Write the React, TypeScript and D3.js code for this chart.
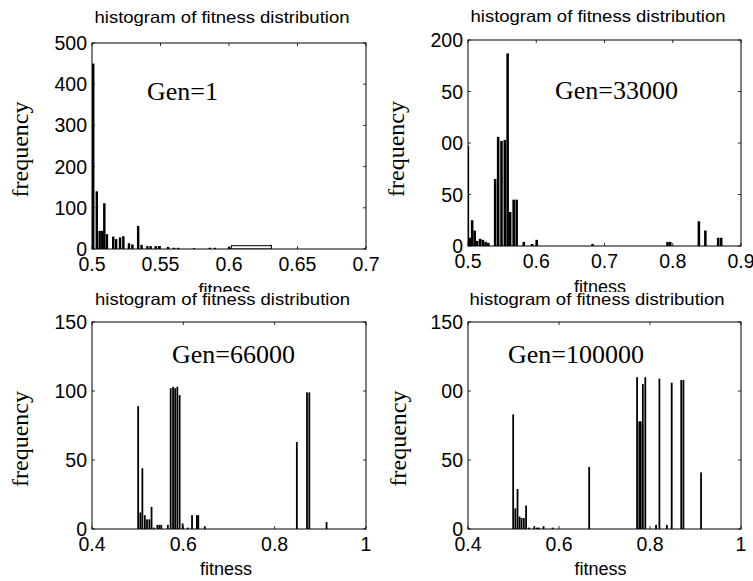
import React from 'react';
import * as d3 from 'd3';

// fitness bin centres and counts
const gen1Fitness = [0.501, 0.5036, 0.5057, 0.5076, 0.5091, 0.511, 0.5156, 0.5177, 0.5206, 0.523, 0.5271, 0.5296, 0.5338, 0.5363, 0.5405, 0.5429, 0.5466, 0.549, 0.5556, 0.56, 0.5631, 0.5746, 0.5861, 0.5899, 0.6002, 0.6305];
const gen1Counts = [450, 140, 44, 44, 111, 36, 30, 24, 28, 31, 14, 11, 56, 10, 7, 7, 7, 7, 5, 3, 3, 2, 3, 3, 5, 10];
// long low hollow bin near 0.6 - 0.63
const gen1FlatRange = [0.6017, 0.631];
const gen1FlatCount = 8;

const gen33kFitness = [0.5, 0.503, 0.5063, 0.51, 0.5137, 0.518, 0.522, 0.526, 0.53, 0.54, 0.5444, 0.5493, 0.5542, 0.5583, 0.562, 0.5671, 0.5715, 0.582, 0.5942, 0.6009, 0.6827, 0.7925, 0.7965, 0.8385, 0.848, 0.8668, 0.8712];
const gen33kCounts = [97, 8, 25, 15, 5, 7, 6, 4, 3, 65, 106, 102, 103, 187, 33, 45, 45, 4, 2, 6, 2, 4, 4, 24, 15, 8, 8];

const gen66kFitness = [0.5014, 0.5062, 0.5106, 0.516, 0.5208, 0.526, 0.5307, 0.5357, 0.5434, 0.5478, 0.552, 0.5664, 0.5726, 0.5778, 0.5824, 0.5872, 0.5922, 0.5988, 0.6102, 0.6194, 0.63, 0.633, 0.6474, 0.8489, 0.8711, 0.8762, 0.9139];
const gen66kCounts = [89, 12, 44, 10, 7, 7, 16, 1, 3, 3, 3, 3, 102, 103, 102, 103, 97, 4, 1, 10, 10, 10, 2, 63, 99, 99, 5];

const gen100kFitness = [0.4996, 0.5044, 0.5092, 0.5136, 0.518, 0.523, 0.528, 0.5345, 0.546, 0.5516, 0.556, 0.5664, 0.5864, 0.6667, 0.7719, 0.7768, 0.78, 0.7846, 0.79, 0.8136, 0.821, 0.8374, 0.848, 0.869, 0.8738, 0.9125];
const gen100kCounts = [83, 15, 29, 9, 8, 8, 17, 1, 2, 1, 1, 2, 1, 45, 110, 78, 78, 105, 110, 3, 109, 3, 106, 108, 108, 41];

// ticks
const gen1XTicks = [0.5, 0.55, 0.6, 0.65, 0.7];
const gen1XTickLabels = ['0.5', '0.55', '0.6', '0.65', '0.7'];
const gen1YTicks = [0, 100, 200, 300, 400, 500];
const gen1YTickLabels = ['0', '100', '200', '300', '400', '500'];

const gen33kXTicks = [0.5, 0.6, 0.7, 0.8, 0.9];
const gen33kXTickLabels = ['0.5', '0.6', '0.7', '0.8', '0.9'];
const gen33kYTicks = [0, 50, 100, 150, 200];
const gen33kYTickLabels = ['0', '50', '00', '50', '200'];

const wideXTicks = [0.4, 0.6, 0.8, 1];
const wideXTickLabels = ['0.4', '0.6', '0.8', '1'];
const gen66kYTicks = [0, 50, 100, 150];
const gen66kYTickLabels = ['0', '50', '100', '150'];
const gen100kYTicks = [0, 50, 100, 150];
const gen100kYTickLabels = ['0', '50', '00', '150'];

const TITLE = 'histogram of fitness distribution';
const SANS = "'Liberation Sans', Arial, sans-serif";
const SERIF = "'Liberation Serif', 'Times New Roman', serif";

const panels = [
  {
    id: 'p1', gen: 'Gen=1', fitness: gen1Fitness, counts: gen1Counts, bin: 0.002,
    xDomain: [0.5, 0.7], xTicks: gen1XTicks, xTickLabels: gen1XTickLabels,
    yDomain: [0, 500], yTicks: gen1YTicks, yTickLabels: gen1YTickLabels,
    frame: { left: 92, right: 366, top: 43, bottom: 249 },
    titleX: 222, titleY: 23, xLabelX: 224.5, xLabelY: 296, yLabelX: 28, yLabelY: 149.5, genX: 147, genY: 100,
    flat: true,
  },
  {
    id: 'p2', gen: 'Gen=33000', fitness: gen33kFitness, counts: gen33kCounts, bin: 0.0042,
    xDomain: [0.5, 0.9], xTicks: gen33kXTicks, xTickLabels: gen33kXTickLabels,
    yDomain: [0, 200], yTicks: gen33kYTicks, yTickLabels: gen33kYTickLabels,
    frame: { left: 468, right: 741, top: 40, bottom: 246 },
    titleX: 598, titleY: 22, xLabelX: 600, xLabelY: 293, yLabelX: 404, yLabelY: 149, genX: 555, genY: 99,
    flat: false,
  },
  {
    id: 'p3', gen: 'Gen=66000', fitness: gen66kFitness, counts: gen66kCounts, bin: 0.0046,
    xDomain: [0.4, 1], xTicks: wideXTicks, xTickLabels: wideXTickLabels,
    yDomain: [0, 150], yTicks: gen66kYTicks, yTickLabels: gen66kYTickLabels,
    frame: { left: 92, right: 366, top: 322, bottom: 529 },
    titleX: 222.5, titleY: 305, xLabelX: 226, xLabelY: 575, yLabelX: 28, yLabelY: 439, genX: 172, genY: 363,
    flat: false,
  },
  {
    id: 'p4', gen: 'Gen=100000', fitness: gen100kFitness, counts: gen100kCounts, bin: 0.0046,
    xDomain: [0.4, 1], xTicks: wideXTicks, xTickLabels: wideXTickLabels,
    yDomain: [0, 150], yTicks: gen100kYTicks, yTickLabels: gen100kYTickLabels,
    frame: { left: 468, right: 741, top: 322, bottom: 529 },
    titleX: 597, titleY: 305, xLabelX: 600.5, xLabelY: 575, yLabelX: 406, yLabelY: 438.5, genX: 508, genY: 363,
    flat: false,
  },
];

type PanelDef = typeof panels[number];

function HistPanel({ p }: { p: PanelDef }) {
  const { left, right, top, bottom } = p.frame;
  const x = d3.scaleLinear().domain(p.xDomain).range([left, right]);
  const y = d3.scaleLinear().domain(p.yDomain).range([bottom, top]);
  const tickLen = 3;

  return (
    <g>
      <defs>
        <clipPath id={`clip-${p.id}`}>
          <rect x={left} y={top} width={right - left} height={bottom - top} />
        </clipPath>
      </defs>

      <text x={p.titleX} y={p.titleY} textAnchor="middle" fontFamily={SANS} fontSize={16.5}
        textLength={255} lengthAdjust="spacingAndGlyphs">{TITLE}</text>

      <g clipPath={`url(#clip-${p.id})`}>
        {p.fitness.map((f, i) => {
          const x0 = x(f - p.bin / 2);
          const x1 = x(f + p.bin / 2);
          return (
            <rect key={i} x={x0} y={y(p.counts[i])} width={Math.max(0.8, x1 - x0 - 0.3)}
              height={bottom - y(p.counts[i])} fill="#000" />
          );
        })}
        {p.flat && (
          <rect x={x(gen1FlatRange[0])} y={y(gen1FlatCount)}
            width={x(gen1FlatRange[1]) - x(gen1FlatRange[0])}
            height={bottom - y(gen1FlatCount)} fill="#fff" stroke="#000" strokeWidth={1} />
        )}
      </g>

      {/* box */}
      <rect x={left} y={top} width={right - left} height={bottom - top} fill="none" stroke="#000" strokeWidth={1} />

      {/* inward ticks */}
      {p.xTicks.map((t, i) => (
        <g key={`xt${i}`} stroke="#000" strokeWidth={0.8}>
          <line x1={x(t)} x2={x(t)} y1={bottom} y2={bottom - tickLen} />
          <line x1={x(t)} x2={x(t)} y1={top} y2={top + tickLen} />
        </g>
      ))}
      {p.yTicks.map((t, i) => (
        <g key={`yt${i}`} stroke="#000" strokeWidth={0.8}>
          <line x1={left} x2={left + tickLen} y1={y(t)} y2={y(t)} />
          <line x1={right} x2={right - tickLen} y1={y(t)} y2={y(t)} />
        </g>
      ))}

      {p.xTicks.map((t, i) => (
        <text key={`xl${i}`} x={x(t)} y={bottom + 22} textAnchor="middle" fontFamily={SANS} fontSize={19.5}>
          {p.xTickLabels[i]}
        </text>
      ))}
      {p.yTicks.map((t, i) => (
        <text key={`yl${i}`} x={left - 5} y={y(t)} dy="0.36em" textAnchor="end" fontFamily={SANS} fontSize={19.5}>
          {p.yTickLabels[i]}
        </text>
      ))}

      <text x={p.xLabelX} y={p.xLabelY} textAnchor="middle" fontFamily={SANS} fontSize={18}>fitness</text>
      <text transform={`translate(${p.yLabelX},${p.yLabelY}) rotate(-90)`} textAnchor="middle"
        fontFamily={SERIF} fontSize={24}>frequency</text>
      <text x={p.genX} y={p.genY} fontFamily={SERIF} fontSize={26}>{p.gen}</text>
    </g>
  );
}

export default function App() {
  return (
    <svg width={753} height={581} style={{ position: 'absolute', left: 0, top: 0, background: '#fff' }}>
      <rect width={753} height={581} fill="#fff" />
      <HistPanel p={panels[0]} />
      <HistPanel p={panels[1]} />
      {/* lower row sits over the upper x labels */}
      <rect x={0} y={292} width={753} height={289} fill="#fff" />
      <HistPanel p={panels[2]} />
      <HistPanel p={panels[3]} />
    </svg>
  );
}
